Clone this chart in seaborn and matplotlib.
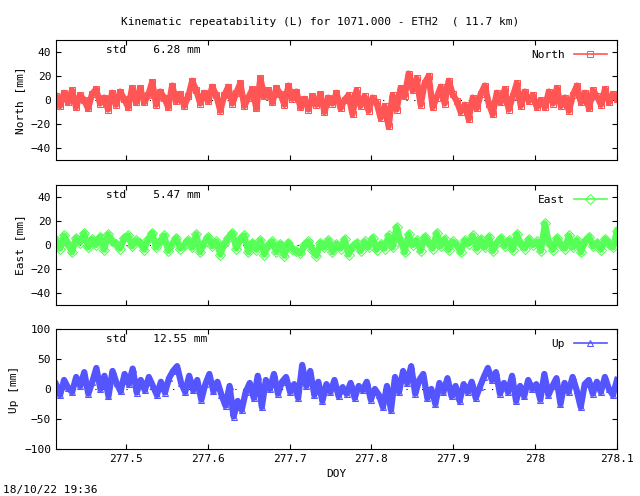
import numpy as np
import pandas as pd
import matplotlib
matplotlib.use("Agg")
import matplotlib.pyplot as plt
import seaborn as sns

x_start, x_end = 277.4146, 278.1
title = "Kinematic repeatability (L) for 1071.000 - ETH2  ( 11.7 km)"
stamp = "18/10/22 19:36"
x_ticks = [277.5, 277.6, 277.7, 277.8, 277.9, 278.0, 278.1]
x_tick_labels = ["277.5", "277.6", "277.7", "277.8", "277.9", "278", "278.1"]

north = [3,-5,6,-2,8,-6,4,0,-7,5,9,-3,2,-8,6,-4,7,1,-6,10,-2,
         10,-2,4,15,-4,7,2,-6,12,-1,5,-5,3,16,8,-3,6,-1,11,4,
         -9,4,11,-3,6,14,-5,2,9,-7,18,3,8,-2,10,5,-4,12,1,7,
         -6,1,-8,3,-4,5,-10,2,-3,6,-7,0,4,-12,8,-5,3,-9,2,-2,
         -15,-5,-22,4,-8,10,3,22,8,18,-4,14,20,-6,2,11,-3,16,5,-1,
         -10,-4,-16,2,-7,5,12,-3,-12,6,-2,9,-8,3,14,-5,7,-1,4,-6,
         0,-6,7,-3,10,-5,2,-9,4,12,-2,6,-7,8,3,-4,9,-2,5,1]
east = [4,-3,8,1,-6,6,2,10,-2,5,0,7,-4,9,3,1,-3,6,8,-1,4,
        2,-4,5,10,-2,3,8,-5,1,6,-3,0,4,-2,9,-6,2,7,-1,3,
        -8,1,6,10,-3,5,8,-6,2,-4,4,-8,0,3,-6,1,-9,2,-3,-5,
        -7,0,3,-4,-9,2,-2,4,-6,1,-3,5,-8,-1,2,-5,3,-2,6,-4,
        1,-3,8,-2,15,3,-6,9,0,4,-5,7,2,-3,10,-1,5,-4,3,0,
        -6,4,1,8,-3,5,-2,7,-5,2,6,-1,4,-4,9,1,-3,5,0,3,
        -5,18,2,-4,6,0,-3,8,-2,4,-6,3,7,-1,2,-4,5,1,-2,12]
up = [8,-10,15,2,-5,20,5,28,-8,12,35,0,22,-12,30,10,-4,25,8,34,-6,
      15,-2,20,5,-10,12,-6,18,30,38,10,-5,22,-2,15,-18,8,25,-4,12,
      -10,-28,5,-46,-20,-35,-5,10,-15,22,-30,15,0,25,-8,12,20,-5,8,
      -15,40,5,30,-10,12,-20,8,-5,15,-12,3,-8,10,-15,5,-2,12,-18,0,
      -10,-30,5,-35,20,-5,30,10,38,-8,15,25,-15,0,-25,10,-5,18,-12,5,
      -20,8,-5,12,-15,3,20,35,15,28,-8,10,-5,22,-20,5,-12,15,0,8,
      -18,25,-10,5,18,-25,10,-5,20,-2,-30,8,15,-8,12,-5,20,0,-10,15]

series = [("North", north, "#ff5555", "s", (-50, 50), [-40, -20, 0, 20, 40], "North [mm]", "6.28"),
          ("East", east, "#55ff55", "D", (-50, 50), [-40, -20, 0, 20, 40], "East [mm]", "5.47"),
          ("Up", up, "#5555ff", "^", (-100, 100), [-100, -50, 0, 50, 100], "Up [mm]", "12.55")]

plt.rcParams["font.family"] = "DejaVu Sans Mono"
plt.rcParams["font.size"] = 8
fig = plt.figure(figsize=(6.4, 4.96), dpi=100)
W, H = 640, 496
boxes = [(40, 160), (185, 305), (329, 449)]
for (name, vals, col, mk, ylim, yt, ylab, std), (top, bot) in zip(series, boxes):
    ax = fig.add_axes([56 / W, 1 - bot / H, (617 - 56) / W, (bot - top) / H])
    df = pd.DataFrame({"x": np.linspace(x_start, x_end, len(vals)), "y": vals})
    sns.lineplot(data=df, x="x", y="y", ax=ax, color=col, marker=mk, markersize=5,
                 markerfacecolor="none", markeredgecolor=col, linewidth=4.5, label=name)
    ax.axhline(0, color="black", lw=0.8, ls=(0, (1, 6)), zorder=0)
    ax.set_xlim(x_start, x_end)
    ax.set_ylim(*ylim)
    ax.set_yticks(yt)
    ax.set_xticks(x_ticks)
    ax.tick_params(direction="in", right=True, top=True, labelsize=8)
    ax.set_ylabel(ylab)
    ax.set_xlabel("")
    ax.text(0.09, 0.92, f"std    {std} mm", transform=ax.transAxes, va="center")
    leg = ax.legend(loc="upper right", frameon=False, handlelength=3, fontsize=8, markerfirst=False)
    for h in leg.get_lines():
        h.set_linewidth(1.2)
    if name == "Up":
        ax.set_xticklabels(x_tick_labels)
        ax.set_xlabel("DOY")
    else:
        ax.set_xticklabels([])
fig.text(0.5, 1 - 22 / H, title, ha="center", va="center", fontsize=8)
fig.text(3 / W, 1 - 490 / H, stamp, ha="left", va="center", fontsize=8)
fig.savefig("out.png", dpi=100)
